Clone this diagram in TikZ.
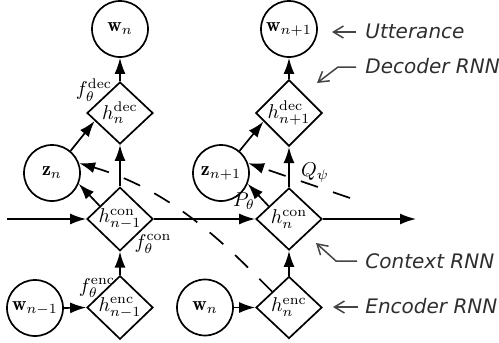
\documentclass[tikz,border=0pt]{standalone}
\usepackage{fontspec}
\newfontfamily\labelfont{DejaVu Sans}
\usetikzlibrary{arrows.meta,shapes.geometric,calc}
\definecolor{ptrgray}{HTML}{444444}
\definecolor{txtgray}{HTML}{2E2E2E}
\begin{document}
\begin{tikzpicture}[x=0.5pt,y=-0.5pt,
  circ/.style={circle,draw,line width=0.85pt,minimum size=28pt,inner sep=0pt},
  dia/.style={diamond,draw,line width=0.85pt,minimum width=33pt,minimum height=31pt,inner sep=0pt},
  arr/.style={line width=0.85pt,-{Latex[length=8pt,width=5.5pt]}},
  darr/.style={arr,dash pattern=on 9pt off 8pt},
  ptr/.style={draw=ptrgray,line width=0.75pt,-{Straight Barb[length=5pt,width=6pt]}},
  lab/.style={font=\labelfont\itshape,text=txtgray,anchor=base west,inner sep=0pt},
  ]
\useasboundingbox (0,0) rectangle (499,343);
% nodes
\node[circ] (wtop1) at (120,29) {$\mathbf{w}_n$};
\node[circ] (wtop2) at (289,29) {$\mathbf{w}_{n+1}$};
\node[dia] (hdec1) at (120,113) {$h_n^{\mathrm{dec}}$};
\node[dia] (hdec2) at (289,113) {$h_{n+1}^{\mathrm{dec}}$};
\node[circ] (z1) at (52,173) {$\mathbf{z}_n$};
\node[circ] (z2) at (221,173) {$\mathbf{z}_{n+1}$};
\node[dia] (hcon1) at (120,219) {$h_{n-1}^{\mathrm{con}}$};
\node[dia] (hcon2) at (289,219) {$h_{n}^{\mathrm{con}}$};
\node[dia] (henc1) at (120,307.5) {$h_{n-1}^{\mathrm{enc}}$};
\node[dia] (henc2) at (289,307.5) {$h_{n}^{\mathrm{enc}}$};
\node[circ] (wb1) at (35,308) {$\mathbf{w}_{n-1}$};
\node[circ] (wb2) at (205,307.5) {$\mathbf{w}_n$};
\coordinate (inL) at (7,219);
\coordinate (outR) at (416,219);
\coordinate (qstart) at (350,198);
% solid arrows
\draw[arr] (inL) -- (hcon1.west);
\draw[arr] (hcon1.east) -- (hcon2.west);
\draw[arr] (hcon2.east) -- (outR);
\draw[arr] (wb1.east) -- (henc1.west);
\draw[arr] (wb2.east) -- (henc2.west);
\draw[arr] (henc1.north) -- (hcon1.south);
\draw[arr] (henc2.north) -- (hcon2.south);
\draw[arr] (hcon1.north) -- (hdec1.south);
\draw[arr] (hcon2.north) -- (hdec2.south);
\draw[arr] (hdec1.north) -- (wtop1.south);
\draw[arr] (hdec2.north) -- (wtop2.south);
\draw[arr] ($(hcon1.west)!0.4!(hcon1.north)$) -- (z1.-22);
\draw[arr] ($(hcon2.west)!0.4!(hcon2.north)$) -- (z2.-22);
\draw[arr] (z1.50) -- ($(hdec1.west)!0.25!(hdec1.south)$);
\draw[arr] (z2.50) -- ($(hdec2.west)!0.25!(hdec2.south)$);
% dashed arrows
\draw[darr] ($(henc2.west)!0.5!(henc2.north)$) .. controls +(-42,-42) and +(96,28) .. (z1.20);
\draw[darr] (qstart) -- (z2.20);
% math labels
\node (fdec) at (94,90) {$f_\theta^{\mathrm{dec}}$};
\node (fcon) at (153,244) {$f_\theta^{\mathrm{con}}$};
\node (fenc) at (97,288) {$f_\theta^{\mathrm{enc}}$};
\node (ptheta) at (244,201) {$P_\theta$};
\node (qpsi) at (315,173) {$Q_\psi$};
% right labels
\node[lab] (utt) at (365,38) {Utterance};
\node[lab] (decr) at (365,73) {Decoder RNN};
\node[lab] (conr) at (365,268) {Context RNN};
\node[lab] (encr) at (365,313) {Encoder RNN};
\draw[ptr] ($(utt.base west)+(-9,-6)$) -- ++(-24,0);
\draw[ptr] ($(decr.base west)+(-9,-6)$) -- ++(-18,0) -- ++(-21,16);
\draw[ptr] ($(conr.base west)+(-8,-7)$) -- ++(-21,0) -- ++(-20,-18);
\draw[ptr] ($(encr.base west)+(-7,-6)$) -- ++(-25,0);
\end{tikzpicture}
\end{document}
